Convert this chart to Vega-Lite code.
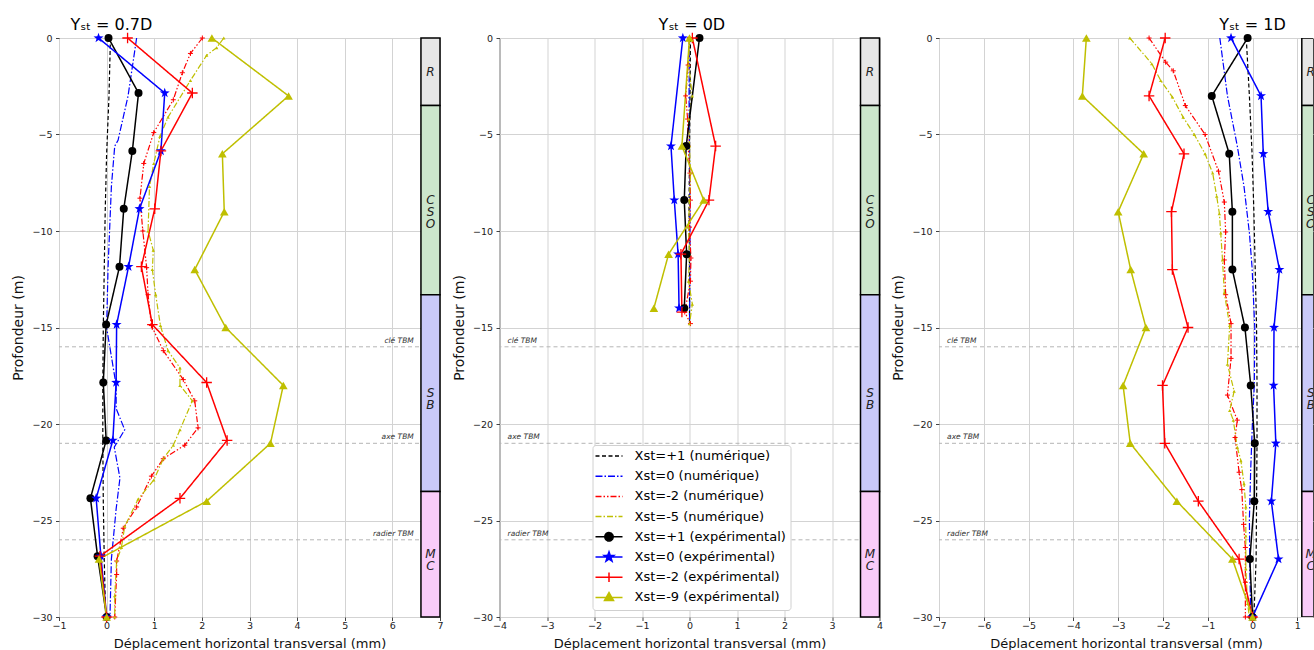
{
  "$schema": "https://vega.github.io/schema/vega-lite/v6.json",
  "padding": {"left": 11, "top": 16, "right": 0, "bottom": 0},
  "spacing": 59.5,
  "bounds": "flush",
  "config": {
    "font": "DejaVu Sans",
    "view": {"stroke": "#444444", "strokeWidth": 1},
    "axis": {"labelFontSize": 9.5, "titleFontSize": 13, "titleFontWeight": "normal", "tickSize": 3.5, "gridColor": "#d3d3d3", "tickColor": "#444444", "domain": false, "labelColor": "#222222", "titleColor": "#111111", "labelFlush": false, "labelFont": "DejaVu Sans", "titleFont": "DejaVu Sans"},
    "axisY": {"titleFontSize": 14, "labelPadding": 3.5, "titlePadding": 6},
    "axisX": {"labelPadding": 0, "titlePadding": 7}
  },
  "resolve": {
    "scale": {"color": "independent", "stroke": "independent", "shape": "independent", "strokeDash": "independent", "fill": "independent"},
    "legend": {"color": "independent", "stroke": "independent", "shape": "independent", "strokeDash": "independent", "fill": "independent"}
  },
  "datasets": {
    "layers": [
      {"name": "R", "lab": "R", "top": 0, "bot": -3.5, "mid": -1.75},
      {"name": "CSO", "lab": "C\nS\nO", "top": -3.5, "bot": -13.3, "mid": -8.4},
      {"name": "SB", "lab": "S\nB", "top": -13.3, "bot": -23.5, "mid": -18.4},
      {"name": "MC", "lab": "M\nC", "top": -23.5, "bot": -30, "mid": -26.75}
    ],
    "tbm": [
      {"d": -16, "lab": "clé TBM"},
      {"d": -21, "lab": "axe TBM"},
      {"d": -26, "lab": "radier TBM"}
    ],
    "p1": [
      {"s": "Xst=+1 (numérique)", "d": 0, "x": 0.08},
      {"s": "Xst=+1 (numérique)", "d": -3, "x": 0.05},
      {"s": "Xst=+1 (numérique)", "d": -6, "x": 0.0},
      {"s": "Xst=+1 (numérique)", "d": -9, "x": -0.03},
      {"s": "Xst=+1 (numérique)", "d": -12, "x": -0.05},
      {"s": "Xst=+1 (numérique)", "d": -15, "x": -0.07},
      {"s": "Xst=+1 (numérique)", "d": -18, "x": -0.08},
      {"s": "Xst=+1 (numérique)", "d": -21, "x": -0.08},
      {"s": "Xst=+1 (numérique)", "d": -24, "x": -0.07},
      {"s": "Xst=+1 (numérique)", "d": -27, "x": -0.05},
      {"s": "Xst=+1 (numérique)", "d": -30, "x": -0.02},
      {"s": "Xst=0 (numérique)", "d": 0, "x": 0.63},
      {"s": "Xst=0 (numérique)", "d": -3, "x": 0.45},
      {"s": "Xst=0 (numérique)", "d": -5.3, "x": 0.24},
      {"s": "Xst=0 (numérique)", "d": -5.6, "x": 0.17},
      {"s": "Xst=0 (numérique)", "d": -7.7, "x": 0.1},
      {"s": "Xst=0 (numérique)", "d": -11.9, "x": 0.03},
      {"s": "Xst=0 (numérique)", "d": -15, "x": 0.0},
      {"s": "Xst=0 (numérique)", "d": -18, "x": 0.2},
      {"s": "Xst=0 (numérique)", "d": -19.2, "x": 0.2},
      {"s": "Xst=0 (numérique)", "d": -20.3, "x": 0.38},
      {"s": "Xst=0 (numérique)", "d": -21.2, "x": 0.16},
      {"s": "Xst=0 (numérique)", "d": -22.8, "x": 0.28},
      {"s": "Xst=0 (numérique)", "d": -24.4, "x": 0.2},
      {"s": "Xst=0 (numérique)", "d": -27, "x": 0.1},
      {"s": "Xst=0 (numérique)", "d": -30, "x": 0.07},
      {"s": "Xst=-2 (numérique)", "d": 0, "x": 2.01},
      {"s": "Xst=-2 (numérique)", "d": -0.8, "x": 1.76},
      {"s": "Xst=-2 (numérique)", "d": -1.8, "x": 1.59},
      {"s": "Xst=-2 (numérique)", "d": -3.2, "x": 1.4},
      {"s": "Xst=-2 (numérique)", "d": -4.9, "x": 0.99},
      {"s": "Xst=-2 (numérique)", "d": -6.5, "x": 0.78},
      {"s": "Xst=-2 (numérique)", "d": -8.3, "x": 0.7},
      {"s": "Xst=-2 (numérique)", "d": -10, "x": 0.76},
      {"s": "Xst=-2 (numérique)", "d": -11.9, "x": 0.84},
      {"s": "Xst=-2 (numérique)", "d": -13.3, "x": 0.87},
      {"s": "Xst=-2 (numérique)", "d": -14.9, "x": 0.94},
      {"s": "Xst=-2 (numérique)", "d": -16.2, "x": 1.19},
      {"s": "Xst=-2 (numérique)", "d": -17.7, "x": 1.61},
      {"s": "Xst=-2 (numérique)", "d": -18.8, "x": 1.85},
      {"s": "Xst=-2 (numérique)", "d": -20.2, "x": 1.92},
      {"s": "Xst=-2 (numérique)", "d": -21.1, "x": 1.64},
      {"s": "Xst=-2 (numérique)", "d": -21.8, "x": 1.19},
      {"s": "Xst=-2 (numérique)", "d": -22.7, "x": 0.94},
      {"s": "Xst=-2 (numérique)", "d": -24.3, "x": 0.63},
      {"s": "Xst=-2 (numérique)", "d": -25.4, "x": 0.35},
      {"s": "Xst=-2 (numérique)", "d": -27.1, "x": 0.21},
      {"s": "Xst=-2 (numérique)", "d": -27.8, "x": 0.21},
      {"s": "Xst=-2 (numérique)", "d": -30, "x": 0.17},
      {"s": "Xst=-5 (numérique)", "d": 0, "x": 2.46},
      {"s": "Xst=-5 (numérique)", "d": -0.5, "x": 2.31},
      {"s": "Xst=-5 (numérique)", "d": -0.9, "x": 2.1},
      {"s": "Xst=-5 (numérique)", "d": -2.2, "x": 1.76},
      {"s": "Xst=-5 (numérique)", "d": -4.1, "x": 1.29},
      {"s": "Xst=-5 (numérique)", "d": -5.1, "x": 1.12},
      {"s": "Xst=-5 (numérique)", "d": -6.5, "x": 0.99},
      {"s": "Xst=-5 (numérique)", "d": -7.7, "x": 0.9},
      {"s": "Xst=-5 (numérique)", "d": -10, "x": 0.87},
      {"s": "Xst=-5 (numérique)", "d": -11, "x": 0.98},
      {"s": "Xst=-5 (numérique)", "d": -12, "x": 0.96},
      {"s": "Xst=-5 (numérique)", "d": -13.3, "x": 1.03},
      {"s": "Xst=-5 (numérique)", "d": -14.9, "x": 1.13},
      {"s": "Xst=-5 (numérique)", "d": -16.2, "x": 1.29},
      {"s": "Xst=-5 (numérique)", "d": -17.1, "x": 1.54},
      {"s": "Xst=-5 (numérique)", "d": -18, "x": 1.54},
      {"s": "Xst=-5 (numérique)", "d": -18.8, "x": 1.8},
      {"s": "Xst=-5 (numérique)", "d": -20.3, "x": 1.54},
      {"s": "Xst=-5 (numérique)", "d": -21.1, "x": 1.4},
      {"s": "Xst=-5 (numérique)", "d": -21.8, "x": 1.19},
      {"s": "Xst=-5 (numérique)", "d": -22.9, "x": 0.99},
      {"s": "Xst=-5 (numérique)", "d": -23.9, "x": 0.66},
      {"s": "Xst=-5 (numérique)", "d": -25.3, "x": 0.38},
      {"s": "Xst=-5 (numérique)", "d": -26.4, "x": 0.31},
      {"s": "Xst=-5 (numérique)", "d": -27.1, "x": 0.21},
      {"s": "Xst=-5 (numérique)", "d": -28.9, "x": 0.17},
      {"s": "Xst=-5 (numérique)", "d": -30, "x": 0.17},
      {"s": "Xst=+1 (expérimental)", "d": 0, "x": 0.04},
      {"s": "Xst=+1 (expérimental)", "d": -2.85, "x": 0.67},
      {"s": "Xst=+1 (expérimental)", "d": -5.85, "x": 0.54},
      {"s": "Xst=+1 (expérimental)", "d": -8.85, "x": 0.36},
      {"s": "Xst=+1 (expérimental)", "d": -11.85, "x": 0.27},
      {"s": "Xst=+1 (expérimental)", "d": -14.85, "x": -0.01},
      {"s": "Xst=+1 (expérimental)", "d": -17.85, "x": -0.07},
      {"s": "Xst=+1 (expérimental)", "d": -20.85, "x": -0.01},
      {"s": "Xst=+1 (expérimental)", "d": -23.85, "x": -0.34},
      {"s": "Xst=+1 (expérimental)", "d": -26.85, "x": -0.19},
      {"s": "Xst=+1 (expérimental)", "d": -30, "x": 0.0},
      {"s": "Xst=0 (expérimental)", "d": 0, "x": -0.17},
      {"s": "Xst=0 (expérimental)", "d": -2.85, "x": 1.22},
      {"s": "Xst=0 (expérimental)", "d": -5.85, "x": 1.14},
      {"s": "Xst=0 (expérimental)", "d": -8.85, "x": 0.69},
      {"s": "Xst=0 (expérimental)", "d": -11.85, "x": 0.46},
      {"s": "Xst=0 (expérimental)", "d": -14.85, "x": 0.21},
      {"s": "Xst=0 (expérimental)", "d": -17.85, "x": 0.2},
      {"s": "Xst=0 (expérimental)", "d": -20.85, "x": 0.13},
      {"s": "Xst=0 (expérimental)", "d": -23.85, "x": -0.22},
      {"s": "Xst=0 (expérimental)", "d": -26.85, "x": -0.12},
      {"s": "Xst=0 (expérimental)", "d": -30, "x": 0.0},
      {"s": "Xst=-2 (expérimental)", "d": 0, "x": 0.44},
      {"s": "Xst=-2 (expérimental)", "d": -2.85, "x": 1.8},
      {"s": "Xst=-2 (expérimental)", "d": -5.85, "x": 1.14},
      {"s": "Xst=-2 (expérimental)", "d": -8.85, "x": 1.01},
      {"s": "Xst=-2 (expérimental)", "d": -11.85, "x": 0.73},
      {"s": "Xst=-2 (expérimental)", "d": -14.85, "x": 0.96},
      {"s": "Xst=-2 (expérimental)", "d": -17.85, "x": 2.1},
      {"s": "Xst=-2 (expérimental)", "d": -20.85, "x": 2.53},
      {"s": "Xst=-2 (expérimental)", "d": -23.85, "x": 1.54},
      {"s": "Xst=-2 (expérimental)", "d": -26.85, "x": -0.14},
      {"s": "Xst=-2 (expérimental)", "d": -30, "x": 0.0},
      {"s": "Xst=-9 (expérimental)", "d": 0, "x": 2.21},
      {"s": "Xst=-9 (expérimental)", "d": -3, "x": 3.82},
      {"s": "Xst=-9 (expérimental)", "d": -6, "x": 2.43},
      {"s": "Xst=-9 (expérimental)", "d": -9, "x": 2.47},
      {"s": "Xst=-9 (expérimental)", "d": -12, "x": 1.85},
      {"s": "Xst=-9 (expérimental)", "d": -15, "x": 2.5},
      {"s": "Xst=-9 (expérimental)", "d": -18, "x": 3.71},
      {"s": "Xst=-9 (expérimental)", "d": -21, "x": 3.44},
      {"s": "Xst=-9 (expérimental)", "d": -24, "x": 2.1},
      {"s": "Xst=-9 (expérimental)", "d": -27, "x": -0.16},
      {"s": "Xst=-9 (expérimental)", "d": -30, "x": 0.0}
    ],
    "p2": [
      {"s": "Xst=+1 (numérique)", "d": 0, "x": 0.02},
      {"s": "Xst=+1 (numérique)", "d": -3, "x": 0.01},
      {"s": "Xst=+1 (numérique)", "d": -6, "x": 0.0},
      {"s": "Xst=+1 (numérique)", "d": -9, "x": -0.01},
      {"s": "Xst=+1 (numérique)", "d": -12, "x": 0.0},
      {"s": "Xst=+1 (numérique)", "d": -14.8, "x": 0.0},
      {"s": "Xst=0 (numérique)", "d": 0, "x": 0.0},
      {"s": "Xst=0 (numérique)", "d": -3, "x": -0.01},
      {"s": "Xst=0 (numérique)", "d": -6, "x": 0.0},
      {"s": "Xst=0 (numérique)", "d": -9, "x": 0.01},
      {"s": "Xst=0 (numérique)", "d": -12, "x": 0.01},
      {"s": "Xst=0 (numérique)", "d": -14.8, "x": 0.0},
      {"s": "Xst=-2 (numérique)", "d": 0, "x": 0.0},
      {"s": "Xst=-2 (numérique)", "d": -1.4, "x": -0.03},
      {"s": "Xst=-2 (numérique)", "d": -3.0, "x": -0.08},
      {"s": "Xst=-2 (numérique)", "d": -4.2, "x": -0.04},
      {"s": "Xst=-2 (numérique)", "d": -5.6, "x": -0.03},
      {"s": "Xst=-2 (numérique)", "d": -7.0, "x": 0.01},
      {"s": "Xst=-2 (numérique)", "d": -8.4, "x": 0.02},
      {"s": "Xst=-2 (numérique)", "d": -9.8, "x": 0.0},
      {"s": "Xst=-2 (numérique)", "d": -11.4, "x": 0.03},
      {"s": "Xst=-2 (numérique)", "d": -12.6, "x": 0.02},
      {"s": "Xst=-2 (numérique)", "d": -14.2, "x": -0.1},
      {"s": "Xst=-2 (numérique)", "d": -14.8, "x": 0.02},
      {"s": "Xst=-5 (numérique)", "d": 0, "x": 0.0},
      {"s": "Xst=-5 (numérique)", "d": -1.4, "x": -0.02},
      {"s": "Xst=-5 (numérique)", "d": -3.0, "x": 0.06},
      {"s": "Xst=-5 (numérique)", "d": -4.2, "x": -0.02},
      {"s": "Xst=-5 (numérique)", "d": -5.6, "x": 0.0},
      {"s": "Xst=-5 (numérique)", "d": -7.0, "x": 0.02},
      {"s": "Xst=-5 (numérique)", "d": -8.4, "x": 0.0},
      {"s": "Xst=-5 (numérique)", "d": -9.8, "x": -0.02},
      {"s": "Xst=-5 (numérique)", "d": -11.2, "x": 0.0},
      {"s": "Xst=-5 (numérique)", "d": -12.6, "x": -0.02},
      {"s": "Xst=-5 (numérique)", "d": -13.8, "x": 0.06},
      {"s": "Xst=-5 (numérique)", "d": -14.8, "x": 0.0},
      {"s": "Xst=+1 (expérimental)", "d": 0, "x": 0.21},
      {"s": "Xst=+1 (expérimental)", "d": -5.6, "x": -0.07},
      {"s": "Xst=+1 (expérimental)", "d": -8.4, "x": -0.11},
      {"s": "Xst=+1 (expérimental)", "d": -11.2, "x": -0.06},
      {"s": "Xst=+1 (expérimental)", "d": -14.0, "x": -0.11},
      {"s": "Xst=0 (expérimental)", "d": 0, "x": -0.14},
      {"s": "Xst=0 (expérimental)", "d": -5.6, "x": -0.39},
      {"s": "Xst=0 (expérimental)", "d": -8.4, "x": -0.32},
      {"s": "Xst=0 (expérimental)", "d": -11.2, "x": -0.24},
      {"s": "Xst=0 (expérimental)", "d": -14.0, "x": -0.22},
      {"s": "Xst=-2 (expérimental)", "d": 0, "x": 0.06},
      {"s": "Xst=-2 (expérimental)", "d": -5.6, "x": 0.55},
      {"s": "Xst=-2 (expérimental)", "d": -8.4, "x": 0.41},
      {"s": "Xst=-2 (expérimental)", "d": -11.2, "x": -0.18},
      {"s": "Xst=-2 (expérimental)", "d": -14.2, "x": -0.16},
      {"s": "Xst=-9 (expérimental)", "d": 0, "x": 0.0},
      {"s": "Xst=-9 (expérimental)", "d": -5.6, "x": -0.16},
      {"s": "Xst=-9 (expérimental)", "d": -8.4, "x": 0.3},
      {"s": "Xst=-9 (expérimental)", "d": -11.2, "x": -0.44},
      {"s": "Xst=-9 (expérimental)", "d": -14.0, "x": -0.75}
    ],
    "p3": [
      {"s": "Xst=+1 (numérique)", "d": 0, "x": -0.14},
      {"s": "Xst=+1 (numérique)", "d": -3, "x": -0.07},
      {"s": "Xst=+1 (numérique)", "d": -6, "x": -0.01},
      {"s": "Xst=+1 (numérique)", "d": -9, "x": 0.03},
      {"s": "Xst=+1 (numérique)", "d": -12, "x": 0.06},
      {"s": "Xst=+1 (numérique)", "d": -15, "x": 0.09},
      {"s": "Xst=+1 (numérique)", "d": -18, "x": 0.1},
      {"s": "Xst=+1 (numérique)", "d": -21, "x": 0.1},
      {"s": "Xst=+1 (numérique)", "d": -24, "x": 0.09},
      {"s": "Xst=+1 (numérique)", "d": -27, "x": 0.08},
      {"s": "Xst=+1 (numérique)", "d": -30, "x": 0.03},
      {"s": "Xst=0 (numérique)", "d": 0, "x": -0.73},
      {"s": "Xst=0 (numérique)", "d": -3, "x": -0.56},
      {"s": "Xst=0 (numérique)", "d": -5.6, "x": -0.34},
      {"s": "Xst=0 (numérique)", "d": -7.7, "x": -0.19},
      {"s": "Xst=0 (numérique)", "d": -10.1, "x": -0.07},
      {"s": "Xst=0 (numérique)", "d": -11.9, "x": -0.01},
      {"s": "Xst=0 (numérique)", "d": -15, "x": 0.05},
      {"s": "Xst=0 (numérique)", "d": -18, "x": 0.04},
      {"s": "Xst=0 (numérique)", "d": -19.8, "x": 0.0},
      {"s": "Xst=0 (numérique)", "d": -22.3, "x": -0.04},
      {"s": "Xst=0 (numérique)", "d": -24.9, "x": -0.07},
      {"s": "Xst=0 (numérique)", "d": -27.5, "x": -0.06},
      {"s": "Xst=0 (numérique)", "d": -30, "x": -0.04},
      {"s": "Xst=-2 (numérique)", "d": 0, "x": -2.31},
      {"s": "Xst=-2 (numérique)", "d": -1.25, "x": -1.94},
      {"s": "Xst=-2 (numérique)", "d": -1.7, "x": -1.77},
      {"s": "Xst=-2 (numérique)", "d": -3.5, "x": -1.5},
      {"s": "Xst=-2 (numérique)", "d": -5.0, "x": -1.06},
      {"s": "Xst=-2 (numérique)", "d": -6.9, "x": -0.76},
      {"s": "Xst=-2 (numérique)", "d": -8.5, "x": -0.63},
      {"s": "Xst=-2 (numérique)", "d": -10.05, "x": -0.6},
      {"s": "Xst=-2 (numérique)", "d": -11.5, "x": -0.63},
      {"s": "Xst=-2 (numérique)", "d": -13.3, "x": -0.6},
      {"s": "Xst=-2 (numérique)", "d": -14.8, "x": -0.48},
      {"s": "Xst=-2 (numérique)", "d": -16.6, "x": -0.48},
      {"s": "Xst=-2 (numérique)", "d": -18.5, "x": -0.56},
      {"s": "Xst=-2 (numérique)", "d": -19.8, "x": -0.34},
      {"s": "Xst=-2 (numérique)", "d": -20.7, "x": -0.39},
      {"s": "Xst=-2 (numérique)", "d": -22.5, "x": -0.3},
      {"s": "Xst=-2 (numérique)", "d": -23.4, "x": -0.24},
      {"s": "Xst=-2 (numérique)", "d": -25.2, "x": -0.2},
      {"s": "Xst=-2 (numérique)", "d": -26.4, "x": -0.16},
      {"s": "Xst=-2 (numérique)", "d": -28.2, "x": -0.16},
      {"s": "Xst=-2 (numérique)", "d": -30, "x": -0.16},
      {"s": "Xst=-5 (numérique)", "d": 0, "x": -2.74},
      {"s": "Xst=-5 (numérique)", "d": -1.33, "x": -2.25},
      {"s": "Xst=-5 (numérique)", "d": -2.2, "x": -2.05},
      {"s": "Xst=-5 (numérique)", "d": -3.06, "x": -1.79},
      {"s": "Xst=-5 (numérique)", "d": -4.1, "x": -1.55},
      {"s": "Xst=-5 (numérique)", "d": -5.0, "x": -1.3},
      {"s": "Xst=-5 (numérique)", "d": -6.0, "x": -1.06},
      {"s": "Xst=-5 (numérique)", "d": -7.0, "x": -0.89},
      {"s": "Xst=-5 (numérique)", "d": -8.2, "x": -0.8},
      {"s": "Xst=-5 (numérique)", "d": -9.1, "x": -0.74},
      {"s": "Xst=-5 (numérique)", "d": -10.1, "x": -0.71},
      {"s": "Xst=-5 (numérique)", "d": -11.5, "x": -0.67},
      {"s": "Xst=-5 (numérique)", "d": -13.2, "x": -0.63},
      {"s": "Xst=-5 (numérique)", "d": -14.9, "x": -0.51},
      {"s": "Xst=-5 (numérique)", "d": -16.9, "x": -0.56},
      {"s": "Xst=-5 (numérique)", "d": -18.3, "x": -0.41},
      {"s": "Xst=-5 (numérique)", "d": -19.3, "x": -0.51},
      {"s": "Xst=-5 (numérique)", "d": -19.8, "x": -0.43},
      {"s": "Xst=-5 (numérique)", "d": -21.2, "x": -0.34},
      {"s": "Xst=-5 (numérique)", "d": -21.9, "x": -0.26},
      {"s": "Xst=-5 (numérique)", "d": -23.1, "x": -0.19},
      {"s": "Xst=-5 (numérique)", "d": -24.3, "x": -0.15},
      {"s": "Xst=-5 (numérique)", "d": -25.8, "x": -0.15},
      {"s": "Xst=-5 (numérique)", "d": -27.5, "x": -0.15},
      {"s": "Xst=-5 (numérique)", "d": -29.3, "x": -0.11},
      {"s": "Xst=-5 (numérique)", "d": -30, "x": -0.07},
      {"s": "Xst=+1 (expérimental)", "d": 0, "x": -0.11},
      {"s": "Xst=+1 (expérimental)", "d": -3, "x": -0.91},
      {"s": "Xst=+1 (expérimental)", "d": -6, "x": -0.52},
      {"s": "Xst=+1 (expérimental)", "d": -9, "x": -0.45},
      {"s": "Xst=+1 (expérimental)", "d": -12, "x": -0.45},
      {"s": "Xst=+1 (expérimental)", "d": -15, "x": -0.17},
      {"s": "Xst=+1 (expérimental)", "d": -18, "x": -0.04},
      {"s": "Xst=+1 (expérimental)", "d": -21, "x": 0.05},
      {"s": "Xst=+1 (expérimental)", "d": -24, "x": 0.04},
      {"s": "Xst=+1 (expérimental)", "d": -27, "x": -0.06},
      {"s": "Xst=+1 (expérimental)", "d": -30, "x": 0.0},
      {"s": "Xst=0 (expérimental)", "d": 0, "x": -0.48},
      {"s": "Xst=0 (expérimental)", "d": -3, "x": 0.19},
      {"s": "Xst=0 (expérimental)", "d": -6, "x": 0.24},
      {"s": "Xst=0 (expérimental)", "d": -9, "x": 0.35},
      {"s": "Xst=0 (expérimental)", "d": -12, "x": 0.6},
      {"s": "Xst=0 (expérimental)", "d": -15, "x": 0.48},
      {"s": "Xst=0 (expérimental)", "d": -18, "x": 0.47},
      {"s": "Xst=0 (expérimental)", "d": -21, "x": 0.52},
      {"s": "Xst=0 (expérimental)", "d": -24, "x": 0.42},
      {"s": "Xst=0 (expérimental)", "d": -27, "x": 0.58},
      {"s": "Xst=0 (expérimental)", "d": -30, "x": 0.0},
      {"s": "Xst=-2 (expérimental)", "d": 0, "x": -1.95},
      {"s": "Xst=-2 (expérimental)", "d": -3, "x": -2.31},
      {"s": "Xst=-2 (expérimental)", "d": -6, "x": -1.53},
      {"s": "Xst=-2 (expérimental)", "d": -9, "x": -1.81},
      {"s": "Xst=-2 (expérimental)", "d": -12, "x": -1.79},
      {"s": "Xst=-2 (expérimental)", "d": -15, "x": -1.44},
      {"s": "Xst=-2 (expérimental)", "d": -18, "x": -2.01},
      {"s": "Xst=-2 (expérimental)", "d": -21, "x": -1.96},
      {"s": "Xst=-2 (expérimental)", "d": -24, "x": -1.21},
      {"s": "Xst=-2 (expérimental)", "d": -27, "x": -0.3},
      {"s": "Xst=-2 (expérimental)", "d": -30, "x": 0.0},
      {"s": "Xst=-9 (expérimental)", "d": 0, "x": -3.71},
      {"s": "Xst=-9 (expérimental)", "d": -3, "x": -3.8},
      {"s": "Xst=-9 (expérimental)", "d": -6, "x": -2.43},
      {"s": "Xst=-9 (expérimental)", "d": -9, "x": -3.0},
      {"s": "Xst=-9 (expérimental)", "d": -12, "x": -2.72},
      {"s": "Xst=-9 (expérimental)", "d": -15, "x": -2.38},
      {"s": "Xst=-9 (expérimental)", "d": -18, "x": -2.89},
      {"s": "Xst=-9 (expérimental)", "d": -21, "x": -2.73},
      {"s": "Xst=-9 (expérimental)", "d": -24, "x": -1.69},
      {"s": "Xst=-9 (expérimental)", "d": -27, "x": -0.45},
      {"s": "Xst=-9 (expérimental)", "d": -30, "x": 0.0}
    ]
  },
  "hconcat": [
    {
      "width": 381, "height": 579,
      "data": {"name": "p1"},
      "layer": [
        {"data": {"name": "tbm"}, "mark": {"type": "rule", "stroke": "#b5b5b5", "strokeDash": [4, 3], "strokeWidth": 1},
         "encoding": {"y": {"field": "d", "type": "quantitative", "scale": {"domain": [-30, 0], "nice": false, "zero": false},
           "axis": {"title": "Profondeur (m)", "values": [-30, -25, -20, -15, -10, -5, 0], "labelExpr": "replace(datum.label, '-', '−')", "grid": true}}}},
        {"data": {"name": "tbm"}, "mark": {"type": "text", "align": "right", "baseline": "bottom", "dy": -2, "fontSize": 7.5, "fontStyle": "italic", "color": "#333333"},
         "encoding": {"x": {"datum": 6.45}, "y": {"field": "d", "type": "quantitative"}, "text": {"field": "lab"}}},
        {"data": {"name": "layers"}, "mark": {"type": "rect", "stroke": "#000000", "strokeWidth": 1.5},
         "encoding": {"x": {"datum": 6.6}, "x2": {"datum": 7}, "y": {"field": "top", "type": "quantitative"}, "y2": {"field": "bot"},
           "fill": {"field": "name", "type": "nominal", "scale": {"domain": ["R", "CSO", "SB", "MC"], "range": ["#e6e6e6", "#cce6cc", "#c9c9f9", "#f9ccf9"]}, "legend": null}}},
        {"data": {"name": "layers"}, "mark": {"type": "text", "fontSize": 12, "fontStyle": "italic", "lineBreak": "\n", "lineHeight": 12, "color": "#222222"},
         "encoding": {"x": {"datum": 6.8}, "y": {"field": "mid", "type": "quantitative"}, "text": {"field": "lab"}}},
        {"transform": [{"filter": {"field": "s", "oneOf": ["Xst=+1 (numérique)", "Xst=0 (numérique)", "Xst=-2 (numérique)", "Xst=-5 (numérique)"]}}],
         "mark": {"type": "line", "strokeWidth": 1.2},
         "encoding": {
           "x": {"field": "x", "type": "quantitative", "scale": {"domain": [-1, 7], "nice": false, "zero": false},
             "axis": {"title": "Déplacement horizontal transversal (mm)", "values": [-1, 0, 1, 2, 3, 4, 5, 6, 7], "labelExpr": "replace(datum.label, '-', '−')", "grid": true}},
           "y": {"field": "d", "type": "quantitative"},
           "color": {"field": "s", "type": "nominal", "legend": null, "scale": {"domain": ["Xst=+1 (numérique)", "Xst=0 (numérique)", "Xst=-2 (numérique)", "Xst=-5 (numérique)", "Xst=+1 (expérimental)", "Xst=0 (expérimental)", "Xst=-2 (expérimental)", "Xst=-9 (expérimental)"], "range": ["#000000", "#0000ff", "#ff0000", "#bfbf00", "#000000", "#0000ff", "#ff0000", "#bfbf00"]}},
           "strokeDash": {"field": "s", "type": "nominal", "legend": null, "scale": {"domain": ["Xst=+1 (numérique)", "Xst=0 (numérique)", "Xst=-2 (numérique)", "Xst=-5 (numérique)", "Xst=+1 (expérimental)", "Xst=0 (expérimental)", "Xst=-2 (expérimental)", "Xst=-9 (expérimental)"], "range": [[4, 2.5], [7, 2, 1.5, 2], [6, 2, 1.5, 2, 1.5, 2], [6, 2, 1.5, 2], [1, 0], [1, 0], [1, 0], [1, 0]]}},
           "order": {"field": "d", "sort": "descending"}}},
        {"transform": [{"filter": {"field": "s", "oneOf": ["Xst=+1 (expérimental)", "Xst=0 (expérimental)", "Xst=-2 (expérimental)", "Xst=-9 (expérimental)"]}}],
         "mark": {"type": "line", "strokeWidth": 1.5},
         "encoding": {
           "x": {"field": "x", "type": "quantitative"},
           "y": {"field": "d", "type": "quantitative"},
           "color": {"field": "s", "type": "nominal", "legend": null},
           "strokeDash": {"field": "s", "type": "nominal", "legend": null},
           "order": {"field": "d", "sort": "descending"}}},
        {"transform": [{"filter": {"field": "s", "equal": "Xst=-2 (numérique)"}}],
         "mark": {"type": "point", "shape": "M-1,0H1M0,-1V1", "filled": false, "stroke": "#ff0000", "strokeWidth": 1, "size": 25, "opacity": 1},
         "encoding": {"x": {"field": "x", "type": "quantitative"}, "y": {"field": "d", "type": "quantitative"}}},
        {"transform": [{"filter": {"field": "s", "equal": "Xst=-5 (numérique)"}}],
         "mark": {"type": "point", "shape": "triangle-up", "filled": true, "color": "#bfbf00", "size": 12, "opacity": 1},
         "encoding": {"x": {"field": "x", "type": "quantitative"}, "y": {"field": "d", "type": "quantitative"}}},
        {"transform": [{"filter": {"field": "s", "equal": "Xst=+1 (expérimental)"}}],
         "mark": {"type": "point", "shape": "circle", "filled": true, "color": "#000000", "size": 64, "opacity": 1},
         "encoding": {"x": {"field": "x", "type": "quantitative"}, "y": {"field": "d", "type": "quantitative"}}},
        {"transform": [{"filter": {"field": "s", "equal": "Xst=0 (expérimental)"}}],
         "mark": {"type": "point", "shape": "M0,-1L0.235,-0.324L0.951,-0.309L0.38,0.124L0.588,0.809L0,0.4L-0.588,0.809L-0.38,0.124L-0.951,-0.309L-0.235,-0.324Z", "filled": true, "color": "#0000ff", "size": 110, "opacity": 1},
         "encoding": {"x": {"field": "x", "type": "quantitative"}, "y": {"field": "d", "type": "quantitative"}}},
        {"transform": [{"filter": {"field": "s", "equal": "Xst=-2 (expérimental)"}}],
         "mark": {"type": "point", "shape": "M-1,0H1M0,-1V1", "filled": false, "stroke": "#ff0000", "strokeWidth": 1.3, "size": 110, "opacity": 1},
         "encoding": {"x": {"field": "x", "type": "quantitative"}, "y": {"field": "d", "type": "quantitative"}}},
        {"transform": [{"filter": {"field": "s", "equal": "Xst=-9 (expérimental)"}}],
         "mark": {"type": "point", "shape": "triangle-up", "filled": true, "color": "#bfbf00", "size": 75, "opacity": 1},
         "encoding": {"x": {"field": "x", "type": "quantitative"}, "y": {"field": "d", "type": "quantitative"}}},
        {"data": {"values": [{"t": "Yₛₜ = 0.7D"}]}, "mark": {"type": "text", "fontSize": 16, "baseline": "alphabetic", "align": "center", "dy": -8, "color": "#000000"},
         "encoding": {"x": {"datum": 0.1}, "y": {"datum": 0}, "text": {"field": "t"}}}
      ]
    },
    {
      "width": 380, "height": 579,
      "data": {"name": "p2"},
      "layer": [
        {"mark": {"type": "point", "filled": true, "opacity": 0, "strokeWidth": 1.5},
         "encoding": {
           "x": {"field": "x", "type": "quantitative"},
           "y": {"field": "d", "type": "quantitative"},
           "color": {"field": "s", "type": "nominal",
             "scale": {"domain": ["Xst=+1 (numérique)", "Xst=0 (numérique)", "Xst=-2 (numérique)", "Xst=-5 (numérique)", "Xst=+1 (expérimental)", "Xst=0 (expérimental)", "Xst=-2 (expérimental)", "Xst=-9 (expérimental)"], "range": ["#000000", "#0000ff", "#ff0000", "#bfbf00", "#000000", "#0000ff", "#ff0000", "#bfbf00"]},
             "legend": {"orient": "none", "legendX": 93, "legendY": 407, "direction": "vertical", "title": null, "symbolSize": 144, "symbolStrokeWidth": 1.5, "symbolOffset": 5.5, "labelOffset": 18.5, "rowPadding": 2.2, "padding": 4, "labelFontSize": 13, "labelFont": "DejaVu Sans", "labelColor": "#000000", "fillColor": "#ffffff", "strokeColor": "#d0d0d0", "cornerRadius": 3, "labelLimit": 300, "symbolOpacity": 1}},
           "stroke": {"field": "s", "type": "nominal",
             "scale": {"domain": ["Xst=+1 (numérique)", "Xst=0 (numérique)", "Xst=-2 (numérique)", "Xst=-5 (numérique)", "Xst=+1 (expérimental)", "Xst=0 (expérimental)", "Xst=-2 (expérimental)", "Xst=-9 (expérimental)"], "range": ["#000000", "#0000ff", "#ff0000", "#bfbf00", "#000000", "#0000ff", "#ff0000", "#bfbf00"]},
             "legend": {"orient": "none", "legendX": 93, "legendY": 407, "direction": "vertical", "title": null, "symbolSize": 144, "symbolStrokeWidth": 1.5, "symbolOffset": 5.5, "labelOffset": 18.5, "rowPadding": 2.2, "padding": 4, "labelFontSize": 13, "labelFont": "DejaVu Sans", "labelColor": "#000000", "fillColor": "#ffffff", "strokeColor": "#d0d0d0", "cornerRadius": 3, "labelLimit": 300, "symbolOpacity": 1}},
           "shape": {"field": "s", "type": "nominal",
             "scale": {"domain": ["Xst=+1 (numérique)", "Xst=0 (numérique)", "Xst=-2 (numérique)", "Xst=-5 (numérique)", "Xst=+1 (expérimental)", "Xst=0 (expérimental)", "Xst=-2 (expérimental)", "Xst=-9 (expérimental)"],
               "range": ["M-2.25,0H2.25M0,-0.85L0,-0.85M0,0.85L0,0.85", "M-2.25,0H2.25M0,-0.85L0,-0.85M0,0.85L0,0.85", "M-2.25,0H2.25M0,-0.85L0,-0.85M0,0.85L0,0.85", "M-2.25,0H2.25M0,-0.85L0,-0.85M0,0.85L0,0.85",
                 "M-2.25,0H2.25M0.7,0A0.7,0.7,0,1,1,-0.7,0A0.7,0.7,0,1,1,0.7,0ZM0,-0.85L0,-0.85M0,0.85L0,0.85",
                 "M-2.25,0H2.25M0,-0.85L0.2,-0.275L0.808,-0.263L0.323,0.105L0.5,0.688L0,0.34L-0.5,0.688L-0.323,0.105L-0.808,-0.263L-0.2,-0.275ZM0,0.85L0,0.85",
                 "M-2.25,0H2.25M0,-0.8V0.8M0,-0.85L0,-0.85M0,0.85L0,0.85",
                 "M-2.25,0H2.25M0,-0.8L0.75,0.5L-0.75,0.5ZM0,-0.85L0,-0.85M0,0.85L0,0.85"]},
             "legend": {"orient": "none", "legendX": 93, "legendY": 407, "direction": "vertical", "title": null, "symbolSize": 144, "symbolStrokeWidth": 1.5, "symbolOffset": 5.5, "labelOffset": 18.5, "rowPadding": 2.2, "padding": 4, "labelFontSize": 13, "labelFont": "DejaVu Sans", "labelColor": "#000000", "fillColor": "#ffffff", "strokeColor": "#d0d0d0", "cornerRadius": 3, "labelLimit": 300, "symbolOpacity": 1}},
           "strokeDash": {"field": "s", "type": "nominal",
             "scale": {"domain": ["Xst=+1 (numérique)", "Xst=0 (numérique)", "Xst=-2 (numérique)", "Xst=-5 (numérique)", "Xst=+1 (expérimental)", "Xst=0 (expérimental)", "Xst=-2 (expérimental)", "Xst=-9 (expérimental)"], "range": [[4, 2.5], [7, 2, 1.5, 2], [6, 2, 1.5, 2, 1.5, 2], [6, 2, 1.5, 2], [1, 0], [1, 0], [1, 0], [1, 0]]},
             "legend": {"orient": "none", "legendX": 93, "legendY": 407, "direction": "vertical", "title": null, "symbolSize": 144, "symbolStrokeWidth": 1.5, "symbolOffset": 5.5, "labelOffset": 18.5, "rowPadding": 2.2, "padding": 4, "labelFontSize": 13, "labelFont": "DejaVu Sans", "labelColor": "#000000", "fillColor": "#ffffff", "strokeColor": "#d0d0d0", "cornerRadius": 3, "labelLimit": 300, "symbolOpacity": 1}}}},
        {"data": {"name": "tbm"}, "mark": {"type": "rule", "stroke": "#b5b5b5", "strokeDash": [4, 3], "strokeWidth": 1},
         "encoding": {"y": {"field": "d", "type": "quantitative", "scale": {"domain": [-30, 0], "nice": false, "zero": false},
           "axis": {"title": "Profondeur (m)", "values": [-30, -25, -20, -15, -10, -5, 0], "labelExpr": "replace(datum.label, '-', '−')", "grid": true}}}},
        {"data": {"name": "tbm"}, "mark": {"type": "text", "align": "left", "baseline": "bottom", "dy": -2, "fontSize": 7.5, "fontStyle": "italic", "color": "#333333"},
         "encoding": {"x": {"datum": -3.83}, "y": {"field": "d", "type": "quantitative"}, "text": {"field": "lab"}}},
        {"data": {"name": "layers"}, "mark": {"type": "rect", "stroke": "#000000", "strokeWidth": 1.5},
         "encoding": {"x": {"datum": 3.6}, "x2": {"datum": 4}, "y": {"field": "top", "type": "quantitative"}, "y2": {"field": "bot"},
           "fill": {"field": "name", "type": "nominal", "scale": {"domain": ["R", "CSO", "SB", "MC"], "range": ["#e6e6e6", "#cce6cc", "#c9c9f9", "#f9ccf9"]}, "legend": null}}},
        {"data": {"name": "layers"}, "mark": {"type": "text", "fontSize": 12, "fontStyle": "italic", "lineBreak": "\n", "lineHeight": 12, "color": "#222222"},
         "encoding": {"x": {"datum": 3.8}, "y": {"field": "mid", "type": "quantitative"}, "text": {"field": "lab"}}},
        {"transform": [{"filter": {"field": "s", "oneOf": ["Xst=+1 (numérique)", "Xst=0 (numérique)", "Xst=-2 (numérique)", "Xst=-5 (numérique)"]}}],
         "mark": {"type": "line", "strokeWidth": 1.2},
         "encoding": {
           "x": {"field": "x", "type": "quantitative", "scale": {"domain": [-4, 4], "nice": false, "zero": false},
             "axis": {"title": "Déplacement horizontal transversal (mm)", "values": [-4, -3, -2, -1, 0, 1, 2, 3, 4], "labelExpr": "replace(datum.label, '-', '−')", "grid": true}},
           "y": {"field": "d", "type": "quantitative"},
           "color": {"field": "s", "type": "nominal", "legend": null},
           "strokeDash": {"field": "s", "type": "nominal", "legend": null},
           "order": {"field": "d", "sort": "descending"}}},
        {"transform": [{"filter": {"field": "s", "oneOf": ["Xst=+1 (expérimental)", "Xst=0 (expérimental)", "Xst=-2 (expérimental)", "Xst=-9 (expérimental)"]}}],
         "mark": {"type": "line", "strokeWidth": 1.5},
         "encoding": {
           "x": {"field": "x", "type": "quantitative"},
           "y": {"field": "d", "type": "quantitative"},
           "color": {"field": "s", "type": "nominal", "legend": null},
           "strokeDash": {"field": "s", "type": "nominal", "legend": null},
           "order": {"field": "d", "sort": "descending"}}},
        {"transform": [{"filter": {"field": "s", "equal": "Xst=-2 (numérique)"}}],
         "mark": {"type": "point", "shape": "M-1,0H1M0,-1V1", "filled": false, "stroke": "#ff0000", "strokeWidth": 1, "size": 25, "opacity": 1},
         "encoding": {"x": {"field": "x", "type": "quantitative"}, "y": {"field": "d", "type": "quantitative"}}},
        {"transform": [{"filter": {"field": "s", "equal": "Xst=-5 (numérique)"}}],
         "mark": {"type": "point", "shape": "triangle-up", "filled": true, "color": "#bfbf00", "size": 12, "opacity": 1},
         "encoding": {"x": {"field": "x", "type": "quantitative"}, "y": {"field": "d", "type": "quantitative"}}},
        {"transform": [{"filter": {"field": "s", "equal": "Xst=+1 (expérimental)"}}],
         "mark": {"type": "point", "shape": "circle", "filled": true, "color": "#000000", "size": 64, "opacity": 1},
         "encoding": {"x": {"field": "x", "type": "quantitative"}, "y": {"field": "d", "type": "quantitative"}}},
        {"transform": [{"filter": {"field": "s", "equal": "Xst=0 (expérimental)"}}],
         "mark": {"type": "point", "shape": "M0,-1L0.235,-0.324L0.951,-0.309L0.38,0.124L0.588,0.809L0,0.4L-0.588,0.809L-0.38,0.124L-0.951,-0.309L-0.235,-0.324Z", "filled": true, "color": "#0000ff", "size": 110, "opacity": 1},
         "encoding": {"x": {"field": "x", "type": "quantitative"}, "y": {"field": "d", "type": "quantitative"}}},
        {"transform": [{"filter": {"field": "s", "equal": "Xst=-2 (expérimental)"}}],
         "mark": {"type": "point", "shape": "M-1,0H1M0,-1V1", "filled": false, "stroke": "#ff0000", "strokeWidth": 1.3, "size": 110, "opacity": 1},
         "encoding": {"x": {"field": "x", "type": "quantitative"}, "y": {"field": "d", "type": "quantitative"}}},
        {"transform": [{"filter": {"field": "s", "equal": "Xst=-9 (expérimental)"}}],
         "mark": {"type": "point", "shape": "triangle-up", "filled": true, "color": "#bfbf00", "size": 75, "opacity": 1},
         "encoding": {"x": {"field": "x", "type": "quantitative"}, "y": {"field": "d", "type": "quantitative"}}},
        {"data": {"values": [{"t": "Yₛₜ = 0D"}]}, "mark": {"type": "text", "fontSize": 16, "baseline": "alphabetic", "align": "center", "dy": -8, "color": "#000000"},
         "encoding": {"x": {"datum": 0.05}, "y": {"datum": 0}, "text": {"field": "t"}}}
      ]
    },
    {
      "width": 374, "height": 579,
      "data": {"name": "p3"},
      "layer": [
        {"data": {"name": "tbm"}, "mark": {"type": "rule", "stroke": "#b5b5b5", "strokeDash": [4, 3], "strokeWidth": 1},
         "encoding": {"y": {"field": "d", "type": "quantitative", "scale": {"domain": [-30, 0], "nice": false, "zero": false},
           "axis": {"title": "Profondeur (m)", "values": [-30, -25, -20, -15, -10, -5, 0], "labelExpr": "replace(datum.label, '-', '−')", "grid": true}}}},
        {"data": {"name": "tbm"}, "mark": {"type": "text", "align": "left", "baseline": "bottom", "dy": -2, "fontSize": 7.5, "fontStyle": "italic", "color": "#333333"},
         "encoding": {"x": {"datum": -6.82}, "y": {"field": "d", "type": "quantitative"}, "text": {"field": "lab"}}},
        {"data": {"name": "layers"}, "mark": {"type": "rect", "stroke": "#000000", "strokeWidth": 1.5, "clip": true},
         "encoding": {"x": {"datum": 1.1}, "x2": {"datum": 1.5}, "y": {"field": "top", "type": "quantitative"}, "y2": {"field": "bot"},
           "fill": {"field": "name", "type": "nominal", "scale": {"domain": ["R", "CSO", "SB", "MC"], "range": ["#e6e6e6", "#cce6cc", "#c9c9f9", "#f9ccf9"]}, "legend": null}}},
        {"data": {"name": "layers"}, "mark": {"type": "text", "fontSize": 12, "fontStyle": "italic", "lineBreak": "\n", "lineHeight": 12, "color": "#222222", "clip": true},
         "encoding": {"x": {"datum": 1.3}, "y": {"field": "mid", "type": "quantitative"}, "text": {"field": "lab"}}},
        {"transform": [{"filter": {"field": "s", "oneOf": ["Xst=+1 (numérique)", "Xst=0 (numérique)", "Xst=-2 (numérique)", "Xst=-5 (numérique)"]}}],
         "mark": {"type": "line", "strokeWidth": 1.2},
         "encoding": {
           "x": {"field": "x", "type": "quantitative", "scale": {"domain": [-7, 1.35], "nice": false, "zero": false},
             "axis": {"title": "Déplacement horizontal transversal (mm)", "values": [-7, -6, -5, -4, -3, -2, -1, 0, 1], "labelExpr": "replace(datum.label, '-', '−')", "grid": true}},
           "y": {"field": "d", "type": "quantitative"},
           "color": {"field": "s", "type": "nominal", "legend": null, "scale": {"domain": ["Xst=+1 (numérique)", "Xst=0 (numérique)", "Xst=-2 (numérique)", "Xst=-5 (numérique)", "Xst=+1 (expérimental)", "Xst=0 (expérimental)", "Xst=-2 (expérimental)", "Xst=-9 (expérimental)"], "range": ["#000000", "#0000ff", "#ff0000", "#bfbf00", "#000000", "#0000ff", "#ff0000", "#bfbf00"]}},
           "strokeDash": {"field": "s", "type": "nominal", "legend": null, "scale": {"domain": ["Xst=+1 (numérique)", "Xst=0 (numérique)", "Xst=-2 (numérique)", "Xst=-5 (numérique)", "Xst=+1 (expérimental)", "Xst=0 (expérimental)", "Xst=-2 (expérimental)", "Xst=-9 (expérimental)"], "range": [[4, 2.5], [7, 2, 1.5, 2], [6, 2, 1.5, 2, 1.5, 2], [6, 2, 1.5, 2], [1, 0], [1, 0], [1, 0], [1, 0]]}},
           "order": {"field": "d", "sort": "descending"}}},
        {"transform": [{"filter": {"field": "s", "oneOf": ["Xst=+1 (expérimental)", "Xst=0 (expérimental)", "Xst=-2 (expérimental)", "Xst=-9 (expérimental)"]}}],
         "mark": {"type": "line", "strokeWidth": 1.5},
         "encoding": {
           "x": {"field": "x", "type": "quantitative"},
           "y": {"field": "d", "type": "quantitative"},
           "color": {"field": "s", "type": "nominal", "legend": null},
           "strokeDash": {"field": "s", "type": "nominal", "legend": null},
           "order": {"field": "d", "sort": "descending"}}},
        {"transform": [{"filter": {"field": "s", "equal": "Xst=-2 (numérique)"}}],
         "mark": {"type": "point", "shape": "M-1,0H1M0,-1V1", "filled": false, "stroke": "#ff0000", "strokeWidth": 1, "size": 25, "opacity": 1},
         "encoding": {"x": {"field": "x", "type": "quantitative"}, "y": {"field": "d", "type": "quantitative"}}},
        {"transform": [{"filter": {"field": "s", "equal": "Xst=-5 (numérique)"}}],
         "mark": {"type": "point", "shape": "triangle-up", "filled": true, "color": "#bfbf00", "size": 12, "opacity": 1},
         "encoding": {"x": {"field": "x", "type": "quantitative"}, "y": {"field": "d", "type": "quantitative"}}},
        {"transform": [{"filter": {"field": "s", "equal": "Xst=+1 (expérimental)"}}],
         "mark": {"type": "point", "shape": "circle", "filled": true, "color": "#000000", "size": 64, "opacity": 1},
         "encoding": {"x": {"field": "x", "type": "quantitative"}, "y": {"field": "d", "type": "quantitative"}}},
        {"transform": [{"filter": {"field": "s", "equal": "Xst=0 (expérimental)"}}],
         "mark": {"type": "point", "shape": "M0,-1L0.235,-0.324L0.951,-0.309L0.38,0.124L0.588,0.809L0,0.4L-0.588,0.809L-0.38,0.124L-0.951,-0.309L-0.235,-0.324Z", "filled": true, "color": "#0000ff", "size": 110, "opacity": 1},
         "encoding": {"x": {"field": "x", "type": "quantitative"}, "y": {"field": "d", "type": "quantitative"}}},
        {"transform": [{"filter": {"field": "s", "equal": "Xst=-2 (expérimental)"}}],
         "mark": {"type": "point", "shape": "M-1,0H1M0,-1V1", "filled": false, "stroke": "#ff0000", "strokeWidth": 1.3, "size": 110, "opacity": 1},
         "encoding": {"x": {"field": "x", "type": "quantitative"}, "y": {"field": "d", "type": "quantitative"}}},
        {"transform": [{"filter": {"field": "s", "equal": "Xst=-9 (expérimental)"}}],
         "mark": {"type": "point", "shape": "triangle-up", "filled": true, "color": "#bfbf00", "size": 75, "opacity": 1},
         "encoding": {"x": {"field": "x", "type": "quantitative"}, "y": {"field": "d", "type": "quantitative"}}},
        {"data": {"values": [{"t": "Yₛₜ = 1D"}]}, "mark": {"type": "text", "fontSize": 16, "baseline": "alphabetic", "align": "center", "dy": -8, "color": "#000000"},
         "encoding": {"x": {"datum": 0}, "y": {"datum": 0}, "text": {"field": "t"}}}
      ]
    }
  ]
}
